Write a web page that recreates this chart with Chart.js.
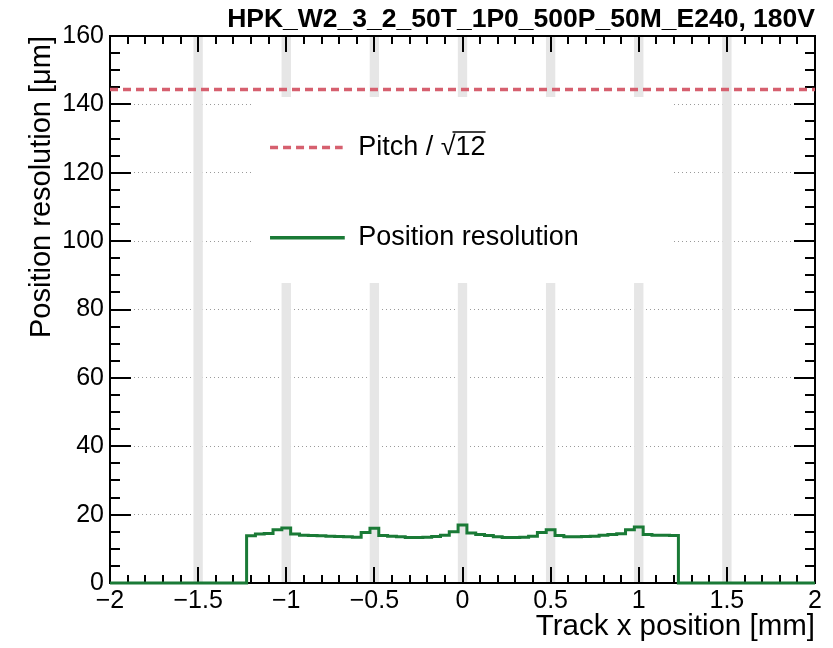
<!DOCTYPE html>
<html><head><meta charset="utf-8">
<script src="https://cdn.jsdelivr.net/npm/chart.js@4"></script>
<style>html,body{margin:0;padding:0;background:#fff}</style>
</head><body>
<canvas id="c" width="833" height="648"></canvas>
<script>
// ---------------- data ----------------
const chartTitle = 'HPK_W2_3_2_50T_1P0_500P_50M_E240, 180V';
const xTitle = 'Track x position [mm]';
const yTitle = 'Position resolution [\u03bcm]';
const legendLabels = ['Pitch / \u221a12', 'Position resolution'];

// bin centres [mm] (bin width 0.05 mm); zero outside the active area
const binCenters = [-2.0, -1.25,
  -1.20, -1.15, -1.10, -1.05, -1.00, -0.95, -0.90, -0.85, -0.80, -0.75,
  -0.70, -0.65, -0.60, -0.55, -0.50, -0.45, -0.40, -0.35, -0.30, -0.25,
  -0.20, -0.15, -0.10, -0.05, 0.00, 0.05, 0.10, 0.15, 0.20, 0.25,
  0.30, 0.35, 0.40, 0.45, 0.50, 0.55, 0.60, 0.65, 0.70, 0.75,
  0.80, 0.85, 0.90, 0.95, 1.00, 1.05, 1.10, 1.15, 1.20,
  1.25, 2.0];
// position resolution [um]
const resolution = [0, 0,
  13.8, 14.3, 14.5, 15.6, 16.1, 14.3, 14.0, 13.9, 13.8, 13.7,
  13.6, 13.5, 13.4, 14.8, 16.0, 13.9, 13.7, 13.5, 13.3, 13.3,
  13.4, 13.6, 14.0, 15.0, 17.0, 14.6, 14.2, 13.9, 13.5, 13.3,
  13.3, 13.4, 13.7, 14.8, 15.6, 13.9, 13.5, 13.5, 13.6, 13.7,
  14.0, 14.2, 14.4, 15.6, 16.4, 14.2, 14.0, 14.0, 13.9,
  0, 0];
const pitchX = [-2, 2];
const pitchY = [144.34, 144.34];           // 500 um / sqrt(12)
const stripCenters = [-1.5, -1.0, -0.5, 0.0, 0.5, 1.0, 1.5]; // metal strips [mm]
const xTicksRange = [-2, 2];
const yTicksRange = [0, 160];

// ---------------- style ----------------
const FONT = "'Liberation Sans', Arial, Helvetica, sans-serif";
const GREEN = '#1a7a36';
const PINK = '#d6606f';
const STRIP_HALF = 0.0265;

const rootPlugin = {
  id: 'rootStyle',
  beforeDatasetsDraw(chart) {
    const {ctx, chartArea: a, scales: {x, y}} = chart;
    ctx.save();
    // strip bands
    ctx.fillStyle = '#e6e6e6';
    stripCenters.forEach(c => {
      const l = x.getPixelForValue(c - STRIP_HALF), r = x.getPixelForValue(c + STRIP_HALF);
      ctx.fillRect(l, a.top, r - l, a.bottom - a.top);
    });
    // frame
    ctx.strokeStyle = '#000';
    ctx.lineWidth = 2;
    ctx.strokeRect(a.left, a.top, a.right - a.left, a.bottom - a.top);
    // inside ticks
    ctx.beginPath();
    const nx = Math.round((x.max - x.min) / 0.1);
    for (let i = 0; i <= nx; i++) {
      const v = x.min + i * 0.1;
      const major = Math.abs(v / 0.5 - Math.round(v / 0.5)) < 1e-6;
      const len = major ? 16 : 8;
      const px = Math.round(x.getPixelForValue(v));
      ctx.moveTo(px, a.bottom); ctx.lineTo(px, a.bottom - len);
      ctx.moveTo(px, a.top); ctx.lineTo(px, a.top + len);
    }
    const ny = Math.round((y.max - y.min) / 5);
    for (let i = 0; i <= ny; i++) {
      const v = y.min + i * 5;
      const major = (v % 20) === 0;
      const len = major ? 21 : 10;
      const py = Math.round(y.getPixelForValue(v));
      ctx.moveTo(a.left, py); ctx.lineTo(a.left + len, py);
      ctx.moveTo(a.right, py); ctx.lineTo(a.right - len, py);
    }
    ctx.stroke();
    ctx.restore();
  },
  afterDatasetsDraw(chart) {
    const {ctx, chartArea: a} = chart;
    const W = a.right - a.left, H = a.bottom - a.top;
    const fx = f => a.left + f * W, fy = f => a.top + f * H;
    ctx.save();
    ctx.fillStyle = '#fff';
    ctx.fillRect(fx(0.203), fy(0.1115), fx(0.797) - fx(0.203), fy(0.4516) - fy(0.1115));
    const rows = [0.204, 0.369];
    const sx1 = fx(0.227), tx = fx(0.352);
    // entry 1: dashed pitch line
    let ry = fy(rows[0]);
    ctx.strokeStyle = PINK; ctx.lineWidth = 3.5; ctx.setLineDash([8, 5]);
    ctx.beginPath(); ctx.moveTo(sx1, ry); ctx.lineTo(fx(0.330), ry); ctx.stroke();
    ctx.setLineDash([]);
    ctx.font = '27px ' + FONT; ctx.fillStyle = '#000'; ctx.textBaseline = 'middle'; ctx.textAlign = 'left';
    ctx.fillText(legendLabels[0], tx, ry);
    const wPre = ctx.measureText(legendLabels[0].slice(0, -2)).width;
    const wAll = ctx.measureText(legendLabels[0]).width;
    ctx.strokeStyle = '#000'; ctx.lineWidth = 1.5;
    ctx.beginPath(); ctx.moveTo(tx + wPre - 3, ry - 15.5); ctx.lineTo(tx + wAll, ry - 15.5); ctx.stroke();
    // entry 2: solid green line
    ry = fy(rows[1]);
    ctx.strokeStyle = GREEN; ctx.lineWidth = 3.5;
    ctx.beginPath(); ctx.moveTo(sx1, ry); ctx.lineTo(fx(0.333), ry); ctx.stroke();
    ctx.fillText(legendLabels[1], tx, ry);
    ctx.restore();
  }
};

const minusFmt = v => String(v).replace('-', '\u2212');

new Chart(document.getElementById('c'), {
  type: 'line',
  data: {
    datasets: [
      {
        label: legendLabels[1],
        data: binCenters.map((c, i) => ({x: c, y: resolution[i]})),
        stepped: 'middle',
        borderColor: GREEN, borderWidth: 3, pointRadius: 0, fill: false, clip: false,
        order: 1
      },
      {
        label: legendLabels[0],
        data: pitchX.map((c, i) => ({x: c, y: pitchY[i]})),
        borderColor: PINK, borderWidth: 3.5, borderDash: [8, 5], pointRadius: 0, fill: false,
        order: 0
      }
    ]
  },
  options: {
    responsive: false, animation: false, devicePixelRatio: 1,
    layout: {padding: {left: 0, right: 18, top: 0, bottom: 0}},
    font: {family: FONT},
    plugins: {
      legend: {display: false},
      tooltip: {enabled: false},
      title: {
        display: true, text: chartTitle, align: 'end', color: '#000',
        font: {family: FONT, size: 26.5, weight: 'bold', lineHeight: '30px'},
        padding: {top: 5, bottom: 1}
      }
    },
    scales: {
      x: {
        type: 'linear', min: xTicksRange[0], max: xTicksRange[1],
        afterFit: s => { s.height = 65; },
        grid: {display: false, drawTicks: false},
        border: {display: false},
        ticks: {stepSize: 0.5, padding: 3, maxRotation: 0, autoSkip: false, color: '#000',
                font: {family: FONT, size: 25}, callback: minusFmt},
        title: {display: true, text: xTitle, align: 'end', color: '#000',
                font: {family: FONT, size: 29.5}, padding: {top: 0, bottom: 3}}
      },
      y: {
        type: 'linear', min: yTicksRange[0], max: yTicksRange[1],
        afterFit: s => { s.width = 110; },
        grid: {display: true, drawTicks: false, color: '#9a9a9a', lineWidth: 1},
        border: {display: false, dash: [1, 3]},
        ticks: {stepSize: 20, padding: 6, color: '#000', font: {family: FONT, size: 25}},
        title: {display: true, text: yTitle, align: 'end', color: '#000',
                font: {family: FONT, size: 29}, padding: {top: 25, bottom: 0}}
      }
    }
  },
  plugins: [rootPlugin]
});
</script>
</body></html>
